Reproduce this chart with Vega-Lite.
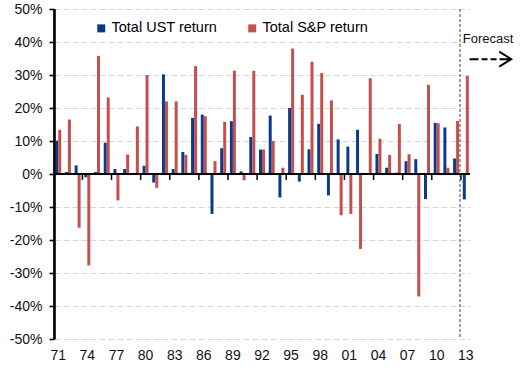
{
  "$schema": "https://vega.github.io/schema/vega-lite/v6.json",
  "width": 416,
  "height": 330,
  "autosize": {"type": "none"},
  "padding": {"left": 54, "top": 9, "right": 51, "bottom": 31},
  "background": "white",
  "config": {
    "font": "Liberation Sans",
    "view": {"stroke": null}
  },
  "resolve": {"axis": {"x": "independent", "y": "independent"}},
  "datasets": {
    "returns": [
      {"year": 1971, "series": "Total UST return", "value": 10.1},
      {"year": 1971, "series": "Total S&P return", "value": 13.4},
      {"year": 1972, "series": "Total UST return", "value": 0.6},
      {"year": 1972, "series": "Total S&P return", "value": 16.5},
      {"year": 1973, "series": "Total UST return", "value": 2.6},
      {"year": 1973, "series": "Total S&P return", "value": -16.3},
      {"year": 1974, "series": "Total UST return", "value": -1.0},
      {"year": 1974, "series": "Total S&P return", "value": -27.7},
      {"year": 1975, "series": "Total UST return", "value": 0.6},
      {"year": 1975, "series": "Total S&P return", "value": 35.8},
      {"year": 1976, "series": "Total UST return", "value": 9.5},
      {"year": 1976, "series": "Total S&P return", "value": 23.2},
      {"year": 1977, "series": "Total UST return", "value": 1.5},
      {"year": 1977, "series": "Total S&P return", "value": -8.0},
      {"year": 1978, "series": "Total UST return", "value": 1.5},
      {"year": 1978, "series": "Total S&P return", "value": 5.9},
      {"year": 1979, "series": "Total UST return", "value": 0.0},
      {"year": 1979, "series": "Total S&P return", "value": 14.4},
      {"year": 1980, "series": "Total UST return", "value": 2.5},
      {"year": 1980, "series": "Total S&P return", "value": 30.0},
      {"year": 1981, "series": "Total UST return", "value": -2.6},
      {"year": 1981, "series": "Total S&P return", "value": -4.2},
      {"year": 1982, "series": "Total UST return", "value": 30.2},
      {"year": 1982, "series": "Total S&P return", "value": 22.0},
      {"year": 1983, "series": "Total UST return", "value": 1.5},
      {"year": 1983, "series": "Total S&P return", "value": 22.0},
      {"year": 1984, "series": "Total UST return", "value": 6.7},
      {"year": 1984, "series": "Total S&P return", "value": 5.8},
      {"year": 1985, "series": "Total UST return", "value": 17.0},
      {"year": 1985, "series": "Total S&P return", "value": 32.7},
      {"year": 1986, "series": "Total UST return", "value": 18.0},
      {"year": 1986, "series": "Total S&P return", "value": 17.5},
      {"year": 1987, "series": "Total UST return", "value": -12.1},
      {"year": 1987, "series": "Total S&P return", "value": 3.9},
      {"year": 1988, "series": "Total UST return", "value": 7.8},
      {"year": 1988, "series": "Total S&P return", "value": 15.8},
      {"year": 1989, "series": "Total UST return", "value": 16.0},
      {"year": 1989, "series": "Total S&P return", "value": 31.3},
      {"year": 1990, "series": "Total UST return", "value": 0.8},
      {"year": 1990, "series": "Total S&P return", "value": -1.9},
      {"year": 1991, "series": "Total UST return", "value": 11.2},
      {"year": 1991, "series": "Total S&P return", "value": 31.3},
      {"year": 1992, "series": "Total UST return", "value": 7.4},
      {"year": 1992, "series": "Total S&P return", "value": 7.4},
      {"year": 1993, "series": "Total UST return", "value": 17.7},
      {"year": 1993, "series": "Total S&P return", "value": 10.0},
      {"year": 1994, "series": "Total UST return", "value": -7.1},
      {"year": 1994, "series": "Total S&P return", "value": 1.9},
      {"year": 1995, "series": "Total UST return", "value": 20.0},
      {"year": 1995, "series": "Total S&P return", "value": 38.0},
      {"year": 1996, "series": "Total UST return", "value": -2.3},
      {"year": 1996, "series": "Total S&P return", "value": 24.0},
      {"year": 1997, "series": "Total UST return", "value": 7.5},
      {"year": 1997, "series": "Total S&P return", "value": 34.0},
      {"year": 1998, "series": "Total UST return", "value": 15.2},
      {"year": 1998, "series": "Total S&P return", "value": 30.6},
      {"year": 1999, "series": "Total UST return", "value": -6.5},
      {"year": 1999, "series": "Total S&P return", "value": 22.3},
      {"year": 2000, "series": "Total UST return", "value": 10.5},
      {"year": 2000, "series": "Total S&P return", "value": -12.5},
      {"year": 2001, "series": "Total UST return", "value": 8.3},
      {"year": 2001, "series": "Total S&P return", "value": -12.1},
      {"year": 2002, "series": "Total UST return", "value": 13.4},
      {"year": 2002, "series": "Total S&P return", "value": -22.7},
      {"year": 2003, "series": "Total UST return", "value": 0.0},
      {"year": 2003, "series": "Total S&P return", "value": 29.0},
      {"year": 2004, "series": "Total UST return", "value": 6.1},
      {"year": 2004, "series": "Total S&P return", "value": 10.7},
      {"year": 2005, "series": "Total UST return", "value": 1.9},
      {"year": 2005, "series": "Total S&P return", "value": 5.8},
      {"year": 2006, "series": "Total UST return", "value": 0.4},
      {"year": 2006, "series": "Total S&P return", "value": 15.2},
      {"year": 2007, "series": "Total UST return", "value": 3.9},
      {"year": 2007, "series": "Total S&P return", "value": 6.0},
      {"year": 2008, "series": "Total UST return", "value": 4.5},
      {"year": 2008, "series": "Total S&P return", "value": -37.1},
      {"year": 2009, "series": "Total UST return", "value": -7.6},
      {"year": 2009, "series": "Total S&P return", "value": 27.0},
      {"year": 2010, "series": "Total UST return", "value": 15.5},
      {"year": 2010, "series": "Total S&P return", "value": 15.4},
      {"year": 2011, "series": "Total UST return", "value": 14.1},
      {"year": 2011, "series": "Total S&P return", "value": 1.9},
      {"year": 2012, "series": "Total UST return", "value": 4.7},
      {"year": 2012, "series": "Total S&P return", "value": 16.1},
      {"year": 2013, "series": "Total UST return", "value": -7.7},
      {"year": 2013, "series": "Total S&P return", "value": 29.8}
    ]
  },
  "data": {"name": "returns"},
  "layer": [
    {
      "mark": {"type": "bar"},
      "encoding": {
        "x": {
          "field": "year",
          "type": "ordinal",
          "scale": {"paddingInner": 0.382, "paddingOuter": 0.124},
          "axis": {
            "title": null,
            "values": [1971, 1974, 1977, 1980, 1983, 1986, 1989, 1992, 1995, 1998, 2001, 2004, 2007, 2010, 2013],
            "labelExpr": "slice(datum.label, 2)",
            "labelAngle": 0,
            "labelFontSize": 14,
            "labelColor": "#111111",
            "labelPadding": 9,
            "ticks": false,
            "domain": false,
            "grid": false
          }
        },
        "xOffset": {
          "field": "series",
          "type": "nominal",
          "sort": ["Total UST return", "Total S&P return"],
          "scale": {"paddingInner": 0, "paddingOuter": 0}
        },
        "y": {
          "field": "value",
          "type": "quantitative",
          "scale": {"domain": [-50, 50], "nice": false},
          "axis": {
            "title": null,
            "values": [-50, -40, -30, -20, -10, 0, 10, 20, 30, 40, 50],
            "labelExpr": "datum.value + '%'",
            "labelOverlap": false,
            "labelFontSize": 14,
            "labelColor": "#111111",
            "labelPadding": 7,
            "ticks": true,
            "tickSize": 5,
            "tickColor": "#000000",
            "tickWidth": 1.6,
            "tickOpacity": 1,
            "domain": true,
            "domainColor": "#000000",
            "domainWidth": 2.2,
            "domainOpacity": 1,
            "grid": true,
            "gridColor": "#d6d6d6",
            "gridDash": [6, 3],
            "gridWidth": 1
          }
        },
        "color": {
          "field": "series",
          "type": "nominal",
          "scale": {
            "domain": ["Total UST return", "Total S&P return"],
            "range": ["#0b3a8a", "#c4504e"]
          },
          "legend": {
            "title": null,
            "orient": "none",
            "direction": "horizontal",
            "legendX": 40,
            "legendY": 12,
            "padding": 0,
            "symbolType": "square",
            "symbolSize": 64,
            "symbolStrokeWidth": 0,
            "labelFontSize": 14.5,
            "labelColor": "#000000",
            "labelOffset": 3,
            "columnPadding": 27
          }
        }
      }
    },
    {
      "data": {"values": [{}]},
      "mark": {"type": "rule", "color": "#000000", "strokeWidth": 2},
      "encoding": {"y": {"datum": 0, "type": "quantitative", "axis": null}}
    },
    {
      "data": {"values": [{}]},
      "mark": {"type": "rule", "color": "#000000", "strokeWidth": 2.2, "xOffset": -0.8},
      "encoding": {
        "x": {"datum": 1971, "type": "ordinal", "bandPosition": 0, "axis": null},
        "y": {"datum": -50, "type": "quantitative", "axis": null},
        "y2": {"datum": 50}
      }
    },
    {
      "transform": [
        {"filter": {"field": "series", "equal": "Total UST return"}},
        {"filter": {"field": "year", "oneOf": [1974, 1977, 1980, 1983, 1986, 1989, 1992, 1995, 1998, 2001, 2004, 2007, 2010, 2013]}}
      ],
      "mark": {"type": "rule", "color": "#000000", "strokeWidth": 1.5, "xOffset": -1.9},
      "encoding": {
        "x": {"field": "year", "type": "ordinal", "bandPosition": 0, "axis": null},
        "y": {"datum": 0, "type": "quantitative", "axis": null},
        "y2": {"datum": -1.8}
      }
    },
    {
      "data": {"values": [{}]},
      "mark": {"type": "rule", "color": "#444444", "strokeWidth": 1, "strokeDash": [3, 2], "xOffset": -2.8},
      "encoding": {
        "x": {"datum": 2013, "type": "ordinal", "bandPosition": 0, "axis": null}
      }
    },
    {
      "data": {"values": [{}]},
      "mark": {"type": "text", "text": "Forecast", "align": "left", "baseline": "alphabetic", "fontSize": 13, "color": "#111111"},
      "encoding": {
        "x": {"datum": 2013, "type": "ordinal", "bandPosition": 0, "axis": null},
        "y": {"datum": 39.8, "type": "quantitative", "axis": null}
      }
    },
    {
      "data": {"values": [{}]},
      "mark": {
        "type": "point",
        "shape": "M-1,0L-0.568,0M-0.424,0L-0.137,0M0.007,0L0.295,0M0.439,0L1,0M0.424,-0.36L1,0L0.424,0.36",
        "size": 1739,
        "filled": false,
        "stroke": "#000000",
        "strokeWidth": 2,
        "opacity": 1,
        "xOffset": 27.6
      },
      "encoding": {
        "x": {"datum": 2013, "type": "ordinal", "bandPosition": 0, "axis": null},
        "y": {"datum": 34.8, "type": "quantitative", "axis": null}
      }
    }
  ]
}
